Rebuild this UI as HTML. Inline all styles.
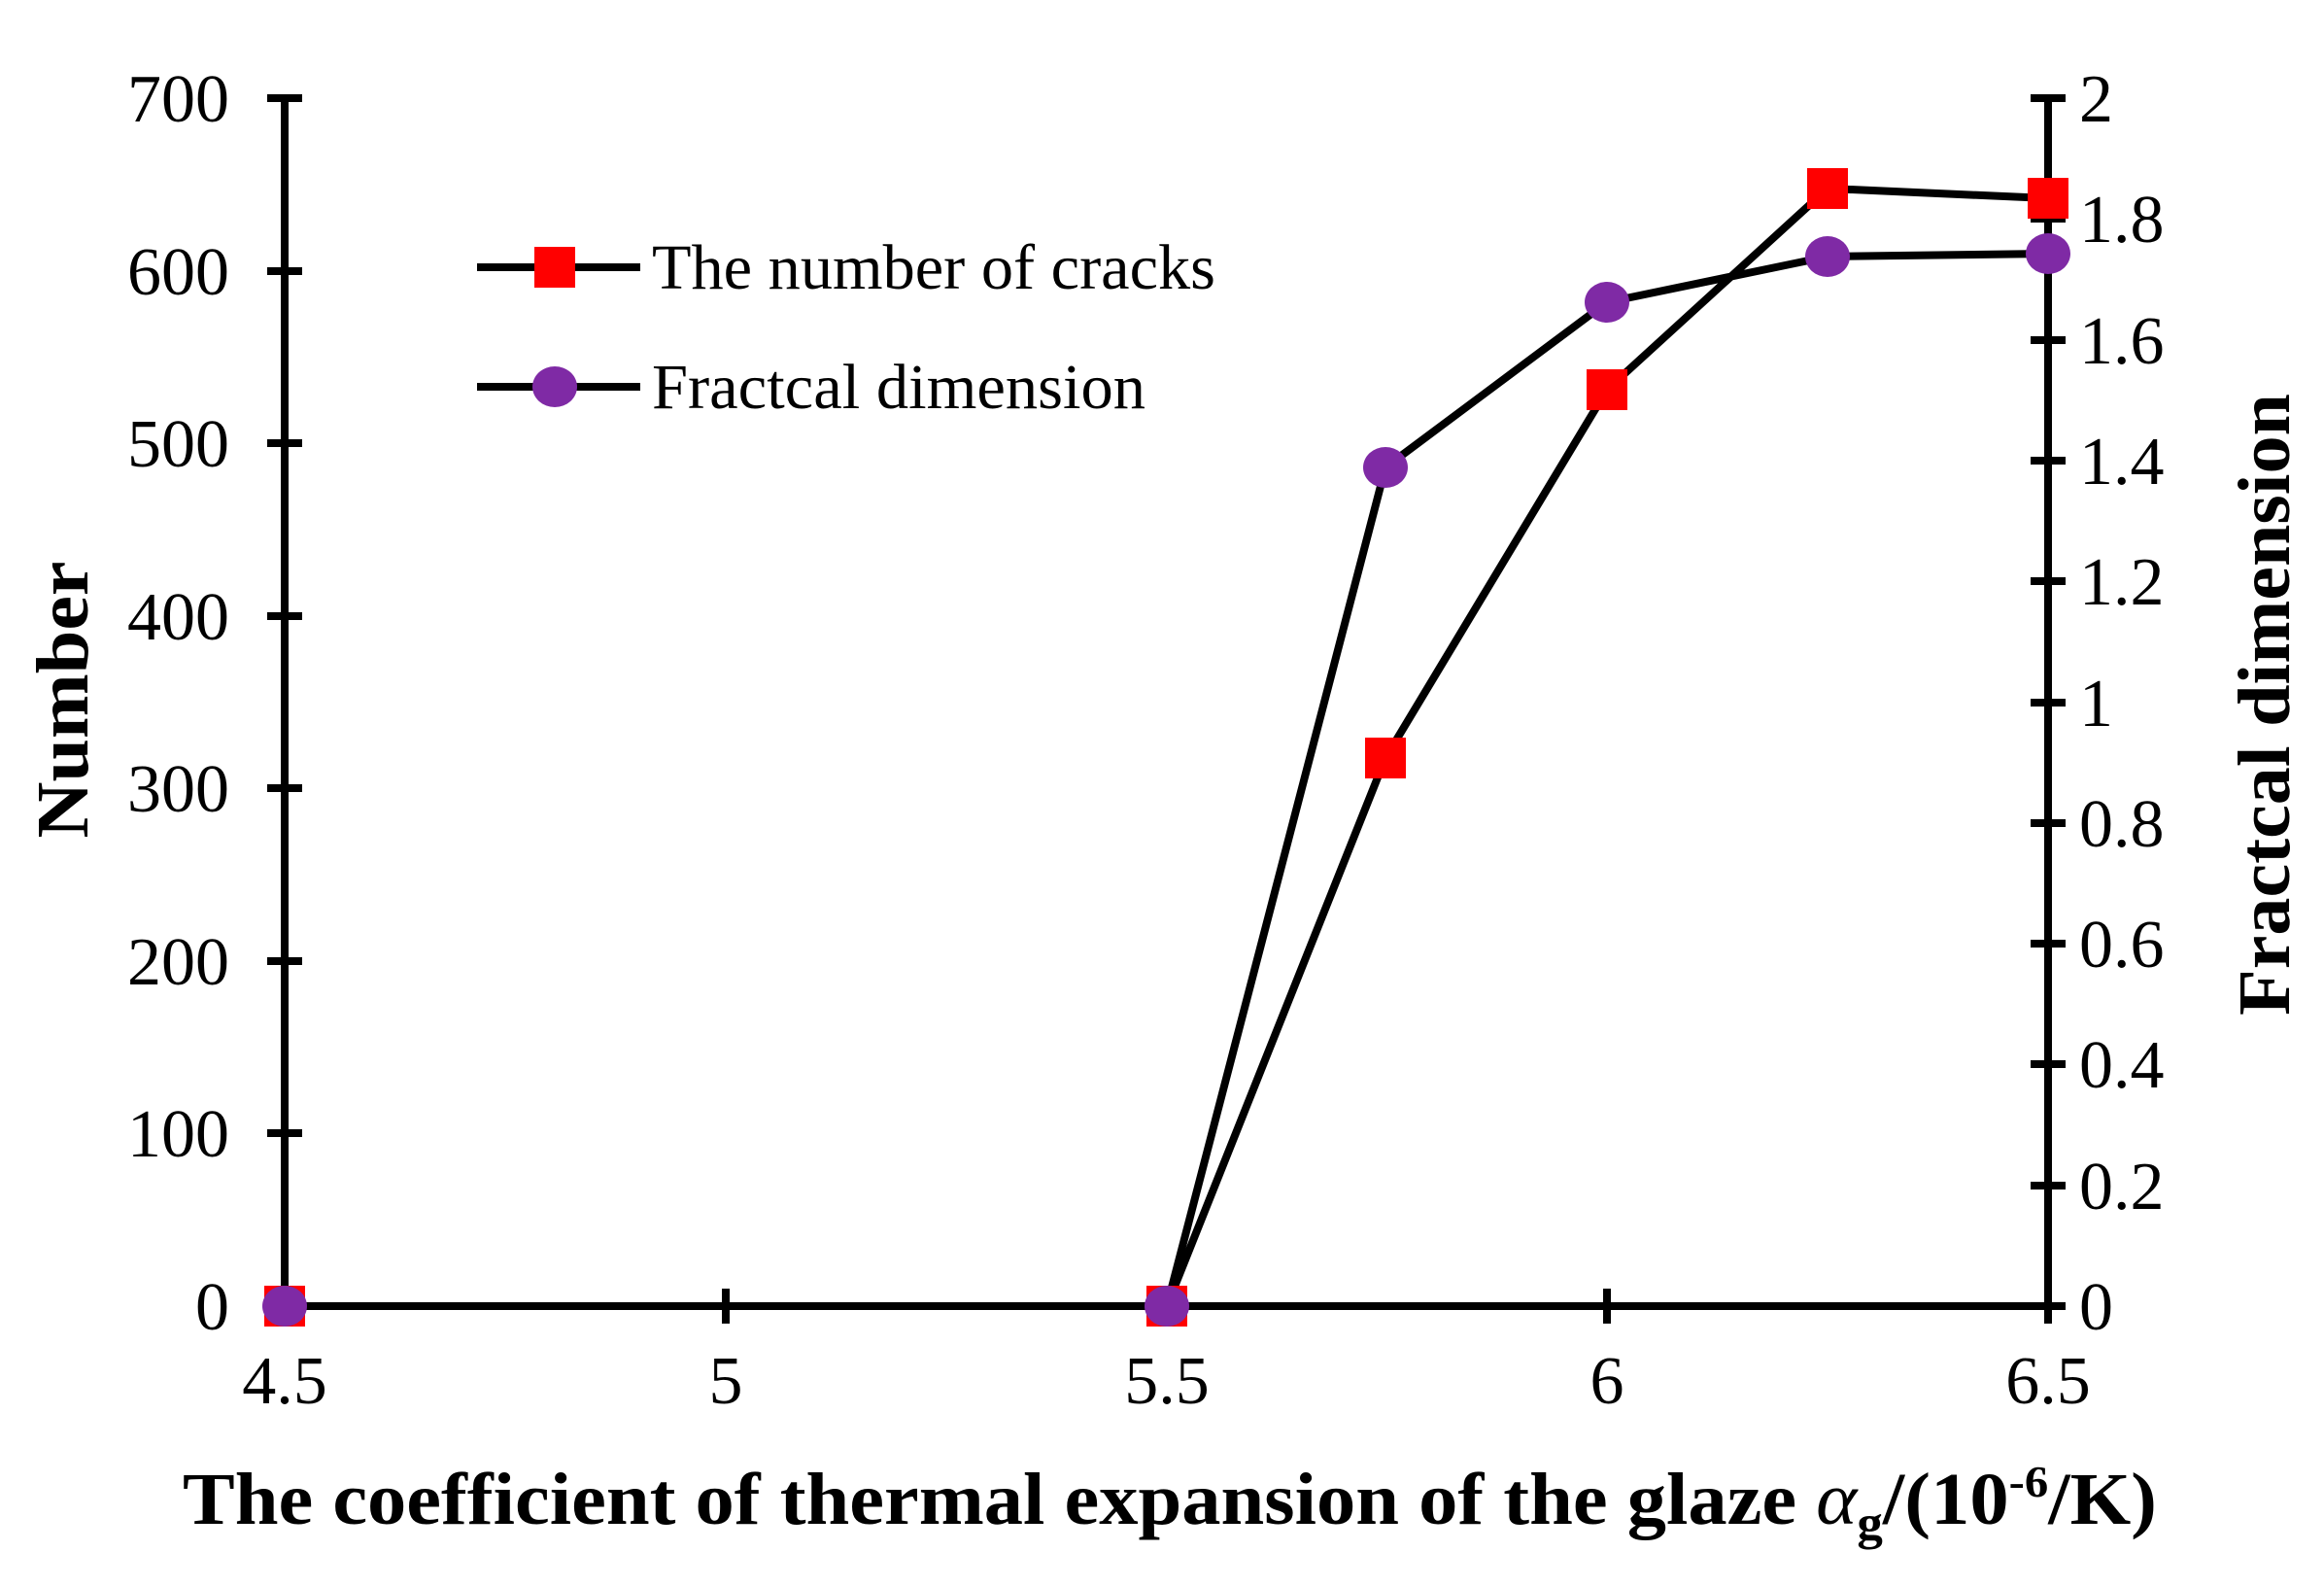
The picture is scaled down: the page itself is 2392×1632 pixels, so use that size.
<!DOCTYPE html>
<html><head><meta charset="utf-8"><style>html,body{margin:0;padding:0;background:#fff}svg{display:block}</style></head>
<body>
<svg width="2392" height="1632" xmlns="http://www.w3.org/2000/svg" font-family="Liberation Serif, serif">
<rect width="2392" height="1632" fill="#fff"/>
<g stroke="#000" stroke-width="8" fill="none">
<line x1="293" y1="97" x2="293" y2="1348"/>
<line x1="2108" y1="97" x2="2108" y2="1348"/>
<line x1="289" y1="1344" x2="2126" y2="1344"/>
<path d="M275 101H311M275 279H311M275 456H311M275 634H311M275 811H311M275 989H311M275 1166H311M275 1344H311"/>
<path d="M2090 101H2126M2090 225H2126M2090 350H2126M2090 474H2126M2090 598H2126M2090 723H2126M2090 847H2126M2090 971H2126M2090 1095H2126M2090 1220H2126M2090 1344H2126"/>
<path d="M747 1326V1362M1201 1326V1362M1654 1326V1362M2108 1326V1362"/>
<polyline stroke-linejoin="round" points="293,1344 1201,1344 1426,780 1654,401 1881,194 2108,204"/>
<polyline stroke-linejoin="round" points="293,1344 1201,1344 1426,481 1654,311 1881,264 2108,261"/>
<line x1="491" y1="275" x2="659" y2="275"/>
<line x1="491" y1="398" x2="659" y2="398"/>
</g>
<g fill="#ff0000">
<rect x="272" y="1323" width="42" height="42"/>
<rect x="1180" y="1323" width="42" height="42"/>
<rect x="1405" y="759" width="42" height="42"/>
<rect x="1633" y="380" width="42" height="42"/>
<rect x="1860" y="173" width="42" height="42"/>
<rect x="2087" y="183" width="42" height="42"/>
<rect x="550" y="254" width="42" height="42"/>
</g>
<g fill="#7f2aa5">
<ellipse cx="293" cy="1344" rx="23" ry="21"/>
<ellipse cx="1201" cy="1344" rx="23" ry="21"/>
<ellipse cx="1426" cy="481" rx="23" ry="21"/>
<ellipse cx="1654" cy="311" rx="23" ry="21"/>
<ellipse cx="1881" cy="264" rx="23" ry="21"/>
<ellipse cx="2108" cy="261" rx="23" ry="21"/>
<ellipse cx="571" cy="398" rx="23" ry="21"/>
</g>
<g font-size="70" fill="#000" text-anchor="end">
<text x="236" y="125">700</text><text x="236" y="303">600</text><text x="236" y="480">500</text>
<text x="236" y="658">400</text><text x="236" y="835">300</text><text x="236" y="1013">200</text>
<text x="236" y="1190">100</text><text x="236" y="1368">0</text>
</g>
<g font-size="70" fill="#000">
<text x="2140" y="125">2</text><text x="2140" y="249">1.8</text><text x="2140" y="374">1.6</text>
<text x="2140" y="498">1.4</text><text x="2140" y="622">1.2</text><text x="2140" y="747">1</text>
<text x="2140" y="871">0.8</text><text x="2140" y="995">0.6</text><text x="2140" y="1119">0.4</text>
<text x="2140" y="1244">0.2</text><text x="2140" y="1368">0</text>
</g>
<g font-size="70" fill="#000" text-anchor="middle">
<text x="293" y="1444">4.5</text><text x="747" y="1444">5</text><text x="1201" y="1444">5.5</text>
<text x="1654" y="1444">6</text><text x="2108" y="1444">6.5</text>
</g>
<g font-size="66" fill="#000">
<text x="671" y="297" textLength="580" lengthAdjust="spacingAndGlyphs">The number of cracks</text>
<text x="671" y="420" textLength="508" lengthAdjust="spacingAndGlyphs">Fractcal dimension</text>
</g>
<text x="188" y="1568" font-size="76" font-weight="bold" fill="#000" textLength="2032" lengthAdjust="spacingAndGlyphs">The coefficient of thermal expansion of the glaze <tspan font-style="italic" font-weight="normal">α</tspan><tspan font-size="50" dy="16">g</tspan><tspan dy="-16">/(10</tspan><tspan font-size="46" dy="-28">-6</tspan><tspan dy="28">/K)</tspan></text>
<text transform="translate(90,720) rotate(-90)" font-size="76" font-weight="bold" text-anchor="middle" fill="#000" textLength="285" lengthAdjust="spacingAndGlyphs">Number</text>
<text transform="translate(2356,725) rotate(-90)" font-size="76" font-weight="bold" text-anchor="middle" fill="#000" textLength="640" lengthAdjust="spacingAndGlyphs">Fractcal dimension</text>
</svg>
</body></html>
